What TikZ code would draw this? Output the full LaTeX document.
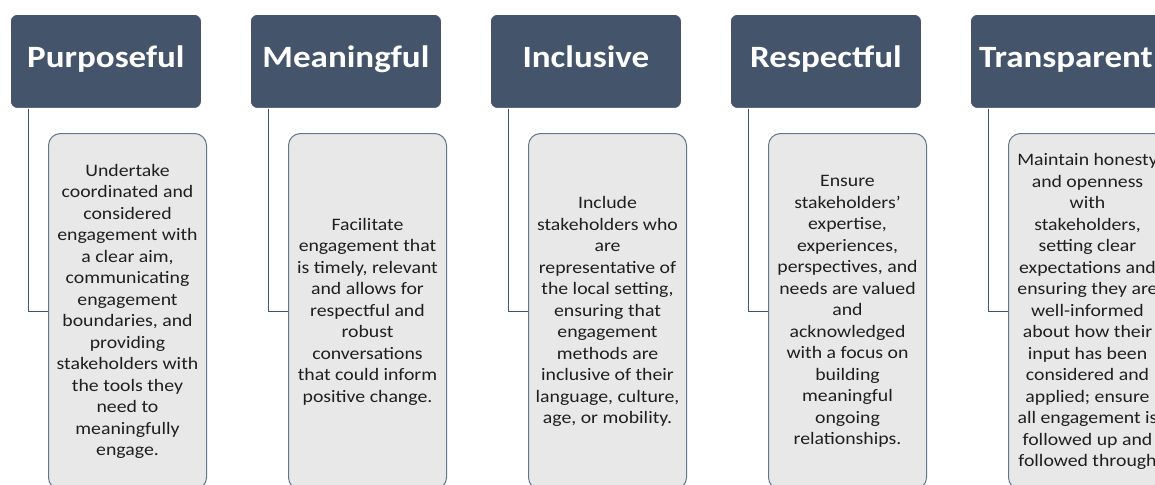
\documentclass[tikz,border=0pt]{standalone}
\usepackage{fontspec}
\setmainfont{Carlito}[FakeStretch=1.13]
\definecolor{hdr}{HTML}{44546A}
\definecolor{bodyfill}{HTML}{E8E8E8}
\definecolor{bodyline}{HTML}{66768A}
\definecolor{linkcol}{HTML}{44546A}
\definecolor{bodytext}{HTML}{1F1F1F}
\begin{document}
\begin{tikzpicture}[x=1pt,y=-1pt,
  head/.style={fill=hdr, draw=white, line width=0.8pt, rounded corners=7pt,
    minimum width=191pt, minimum height=94pt, text=white,
    text height=20pt, text depth=8pt,
    font=\fontsize{31}{34}\selectfont\bfseries, inner sep=0pt, anchor=north west},
  body/.style={fill=bodyfill, draw=bodyline, line width=1pt, rounded corners=12pt,
    minimum width=158pt, minimum height=356pt, align=center, text=bodytext,
    font=\fontsize{17.5}{21.5}\selectfont, inner sep=0pt, anchor=north west},
  link/.style={draw=linkcol, line width=1pt}]
\useasboundingbox (0,0) rectangle (1155,484);
\fill[white] (0,0) rectangle (1155,484);
\clip (0,0) rectangle (1155,484);

% headers
\node[head] (h1) at (10,14)  {Purposeful};
\node[head] (h2) at (250,14) {Meaningful};
\node[head] (h3) at (490,14) {Inclusive};
\node[head] (h4) at (730,14) {Respectful};
\node[head] (h5) at (970,14) {Transparent};

% description boxes
\node[body] (b1) at (48,133) {Undertake\\coordinated and\\considered\\engagement with\\a clear aim,\\communicating\\engagement\\boundaries, and\\providing\\stakeholders with\\the tools they\\need to\\meaningfully\\engage.};
\node[body] (b2) at (288,133) {Facilitate\\engagement that\\is timely, relevant\\and allows for\\respectful and\\robust\\conversations\\that could inform\\positive change.};
\node[body] (b3) at (528,133) {Include\\stakeholders who\\are\\representative of\\the local setting,\\ensuring that\\engagement\\methods are\\inclusive of their\\language, culture,\\age, or mobility.};
\node[body] (b4) at (768,133) {Ensure\\stakeholders'\\expertise,\\experiences,\\perspectives, and\\needs are valued\\and\\acknowledged\\with a focus on\\building\\meaningful\\ongoing\\relationships.};
\node[body] (b5) at (1008,133) {Maintain honesty\\and openness\\with\\stakeholders,\\setting clear\\expectations and\\ensuring they are\\well-informed\\about how their\\input has been\\considered and\\applied; ensure\\all engagement is\\followed up and\\followed through};

% connectors
\foreach \i in {1,...,5}
  \draw[link] ([xshift=18.5pt]h\i.south west) |- (b\i.west);
\end{tikzpicture}
\end{document}
